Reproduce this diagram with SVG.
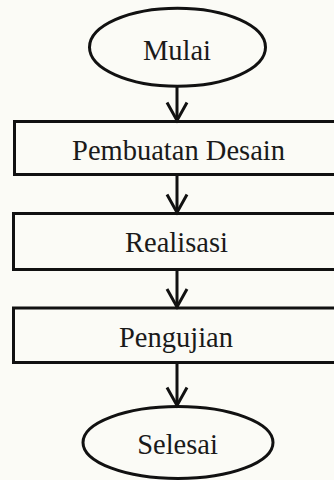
<svg xmlns="http://www.w3.org/2000/svg" width="334" height="480" viewBox="0 0 334 480">
  <style>
    .shape { fill: none; stroke: #111; stroke-width: 3; }
    .label { font-family: "Liberation Serif", "Times New Roman", serif; font-size: 28.5px; fill: #1a1a1a; text-anchor: middle; }
    .flow { stroke: #111; stroke-width: 3; fill: none; marker-end: url(#head); }
  </style>
  <defs>
    <marker id="head" markerUnits="userSpaceOnUse" markerWidth="24" markerHeight="24" viewBox="-20 -12 22 24" refX="0" refY="0" orient="auto" overflow="visible">
      <path d="M-18,-10 L0,0 L-18,10" fill="none" stroke="#111" stroke-width="3" stroke-linejoin="miter"/>
    </marker>
  </defs>

  <rect x="0" y="0" width="334" height="480" fill="#fbfbf6"/>

  <g id="connectors">
    <line class="flow" x1="177" y1="86" x2="177" y2="120.5"/>
    <line class="flow" x1="177" y1="174.5" x2="177" y2="212.5"/>
    <line class="flow" x1="177" y1="269.5" x2="177" y2="307"/>
    <line class="flow" x1="177" y1="362.5" x2="177" y2="405.5"/>
  </g>

  <g id="mulai">
    <ellipse class="shape" cx="177.5" cy="47.3" rx="88" ry="39"/>
    <text class="label" x="177" y="60">Mulai</text>
  </g>

  <g id="pembuatan-desain">
    <rect class="shape" x="14.5" y="121.5" width="330" height="53"/>
    <text class="label" x="178.5" y="160">Pembuatan Desain</text>
  </g>

  <g id="realisasi">
    <rect class="shape" x="13.5" y="213.5" width="330" height="56"/>
    <text class="label" x="176.5" y="251.5">Realisasi</text>
  </g>

  <g id="pengujian">
    <rect class="shape" x="13.5" y="308" width="330" height="54.5"/>
    <text class="label" x="176" y="346.5">Pengujian</text>
  </g>

  <g id="selesai">
    <ellipse class="shape" cx="178" cy="442.5" rx="95" ry="36"/>
    <text class="label" x="177.5" y="453.5">Selesai</text>
  </g>
</svg>
